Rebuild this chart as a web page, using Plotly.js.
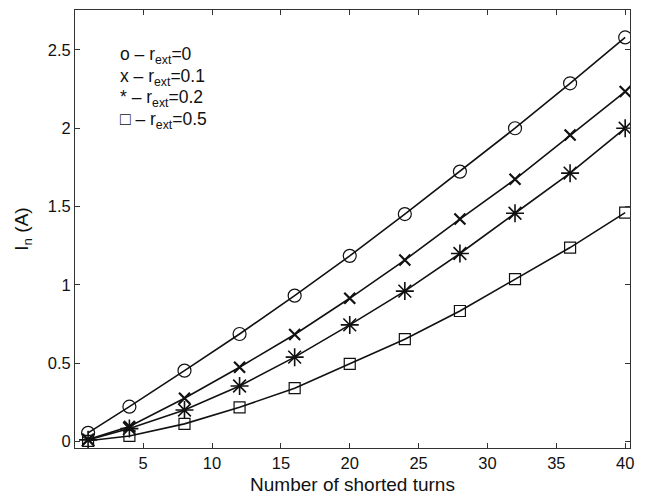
<!DOCTYPE html>
<html>
<head>
<meta charset="utf-8">
<script src="https://cdn.plot.ly/plotly-3.0.1.min.js"></script>
<style>html,body{margin:0;padding:0;background:#fff;}#chart{width:647px;height:500px;}</style>
</head>
<body>
<div id="chart"></div>
<script>
const turns = [1, 4, 8, 12, 16, 20, 24, 28, 32, 36, 40];
const r0   = [0.055, 0.222, 0.452, 0.686, 0.931, 1.185, 1.452, 1.723, 2.0, 2.287, 2.58];
const r01  = [0.012, 0.095, 0.276, 0.474, 0.683, 0.914, 1.158, 1.42, 1.674, 1.957, 2.234];
const r02  = [0.01, 0.082, 0.201, 0.354, 0.538, 0.744, 0.96, 1.2, 1.457, 1.713, 2.0];
const r05  = [0.004, 0.035, 0.112, 0.218, 0.34, 0.495, 0.653, 0.833, 1.036, 1.238, 1.461];
const legendSymbols = ["o", "x", "*", "\u25A1"];
const legendValues = ["0", "0.1", "0.2", "0.5"];
const xTicks = [5, 10, 15, 20, 25, 30, 35, 40];
const yTicks = [0, 0.5, 1, 1.5, 2, 2.5];
const yTickText = ["0", "0.5", "1", "1.5", "2", "2.5"];

const font = "Liberation Sans, Arial, sans-serif";
const lineStyle = {color: "#111", width: 1.6};
function trace(y, symbol, size, lw) {
  return {
    x: turns, y: y, type: "scatter", mode: "lines+markers",
    line: lineStyle,
    marker: {symbol: symbol, size: size, color: "#111", line: {color: "#111", width: lw}},
    showlegend: false, hoverinfo: "skip"
  };
}
const data = [
  trace(r0, "circle-open", 13, 1.2),
  trace(r01, "x-thin-open", 11, 2.2),
  trace(r02, "asterisk-open", 15, 1.6),
  trace(r05, "square-open", 11, 1.2)
];

const annotations = legendSymbols.map((s, i) => ({
  xref: "paper", yref: "paper",
  x: 0.078, y: 0.897 - i * 0.05,
  xanchor: "left", yanchor: "middle",
  showarrow: false,
  text: s + " \u2013 r<sub>ext</sub>=" + legendValues[i],
  font: {family: font, size: 17.5, color: "#111"}
}));

const axisCommon = {
  showline: true, mirror: "ticks", linecolor: "#333", linewidth: 1,
  ticks: "inside", ticklen: 5, tickcolor: "#333", tickwidth: 1,
  showgrid: false, zeroline: false,
  tickfont: {family: font, size: 16.5, color: "#111"}
};

const layout = {
  width: 647, height: 500,
  margin: {l: 75, r: 17, t: 10, b: 52},
  paper_bgcolor: "#fff", plot_bgcolor: "#fff",
  xaxis: Object.assign({}, axisCommon, {
    range: [0.05, 40.35], tickvals: xTicks,
    title: {text: "Number of shorted turns", font: {family: font, size: 19, color: "#111"}, standoff: 6}
  }),
  yaxis: Object.assign({}, axisCommon, {
    range: [-0.042, 2.755], tickvals: yTicks, ticktext: yTickText,
    title: {text: "I<sub>n</sub> (A)", font: {family: font, size: 19, color: "#111"}, standoff: 14}
  }),
  annotations: annotations
};

Plotly.newPlot("chart", data, layout, {staticPlot: true});
</script>
</body>
</html>
